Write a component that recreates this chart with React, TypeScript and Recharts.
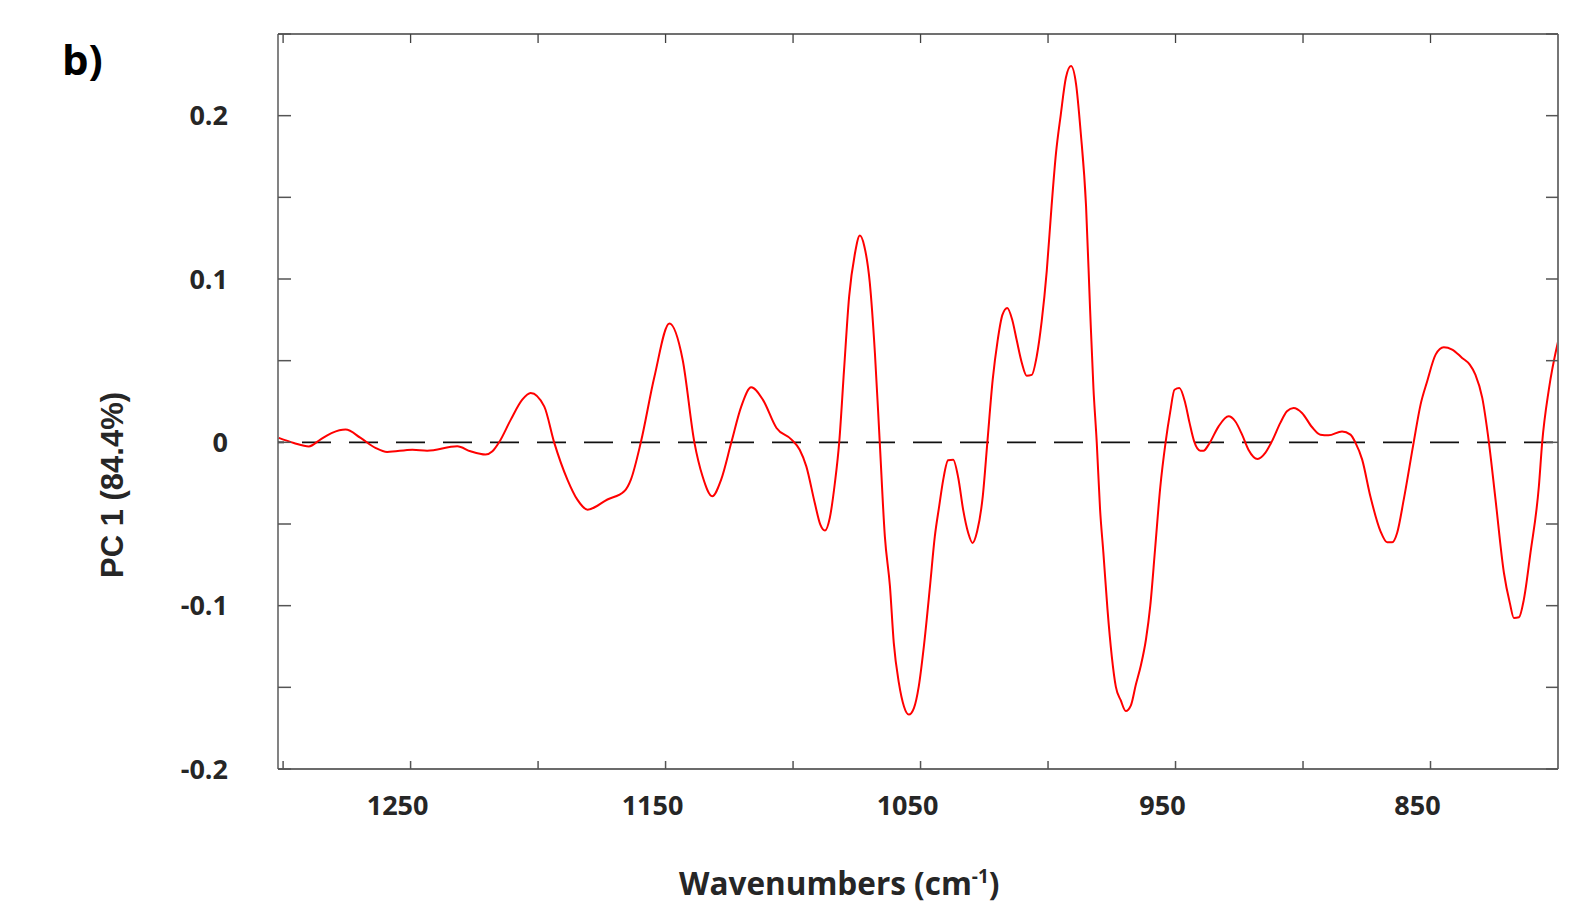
import { LineChart, Line, XAxis, YAxis, ReferenceLine } from 'recharts';

// PC1 loading (x = wavenumber, cm-1)
const wavenumbers = [
  1301.7, 1295.8, 1289.9, 1285.4, 1280.8, 1275.5, 1269.6, 1263.8, 1259.2, 1249.3,
  1243.5, 1231.7, 1226.5, 1220.6, 1217.9, 1215.3, 1210.7, 1206.2, 1202.9, 1197.6,
  1193.7, 1188.5, 1184.6, 1180.6, 1172.8, 1166.2, 1163.6, 1159.7, 1154.4, 1148.5,
  1143.3, 1138.7, 1135.5, 1131.7, 1128.2, 1124.2, 1120.3, 1116.4, 1111.8, 1106.5,
  1100.6, 1097.4, 1094.8, 1091.5, 1089.3, 1087.5, 1085.6, 1083.6, 1081.9, 1080.0,
  1078.0, 1075.8, 1073.8, 1072.1, 1069.9, 1067.9, 1066.0, 1064.0, 1062.0, 1060.5,
  1058.5, 1056.5, 1054.6, 1052.6, 1050.7, 1048.7, 1046.3, 1044.4, 1042.7, 1041.1,
  1039.2, 1037.2, 1035.2, 1033.3, 1031.3, 1029.6, 1027.8, 1025.6, 1023.8, 1021.7,
  1019.8, 1017.9, 1016.0, 1014.0, 1012.3, 1010.3, 1008.4, 1006.4, 1004.4, 1002.5,
  1000.5, 998.6, 996.9, 995.0, 993.0, 991.0, 989.0, 987.2, 985.1, 983.5,
  982.2, 980.9, 979.6, 978.3, 976.7, 975.0, 973.4, 971.5, 969.5, 967.5,
  965.6, 963.6, 961.6, 959.9, 958.0, 956.0, 953.9, 952.1, 950.4, 948.5,
  946.2, 944.5, 942.7, 940.3, 939.0, 937.0, 933.1, 929.2, 926.6, 923.9,
  921.4, 917.8, 914.8, 912.2, 908.9, 906.3, 903.7, 900.4, 896.5, 893.2,
  890.0, 884.7, 881.4, 879.5, 876.8, 873.6, 869.6, 867.0, 865.0, 863.1,
  860.5, 856.6, 853.9, 851.3, 848.0, 844.8, 841.5, 837.6, 834.6, 832.4,
  829.7, 827.1, 824.5, 821.2, 818.9, 817.3, 815.3, 813.4, 810.8, 807.5,
  806.2, 803.6, 799.8,
];

const pc1 = [
  0.0027, -0.0004, -0.0025, 0.0017, 0.0058, 0.0078, 0.0027, -0.0034, -0.0059, -0.0045,
  -0.0051, -0.0024, -0.0055, -0.0075, -0.0055, 0.0, 0.0139, 0.0261, 0.0302, 0.022,
  0.0, -0.0228, -0.0351, -0.0412, -0.035, -0.03, -0.0228, 0.0, 0.04, 0.0727,
  0.0506, 0.0, -0.0208, -0.033, -0.0228, 0.0, 0.022, 0.0337, 0.026, 0.0088,
  0.0017, -0.0045, -0.0147, -0.037, -0.0504, -0.054, -0.0463, -0.0249, 0.0, 0.0445,
  0.0894, 0.115, 0.1266, 0.1204, 0.0976, 0.0547, 0.0, -0.0576, -0.0882, -0.1228,
  -0.1473, -0.1617, -0.1667, -0.1627, -0.1494, -0.1249, -0.0882, -0.0576, -0.0392, -0.0228,
  -0.011, -0.0106, -0.0218, -0.0412, -0.0555, -0.0616, -0.0545, -0.0331, 0.0, 0.0384,
  0.062, 0.078, 0.0823, 0.0748, 0.0626, 0.0487, 0.0408, 0.0413, 0.053, 0.074,
  0.105, 0.1449, 0.1767, 0.2007, 0.2232, 0.2304, 0.2192, 0.19, 0.1449, 0.0811,
  0.0334, 0.0, -0.041, -0.0675, -0.102, -0.131, -0.1497, -0.1579, -0.1645, -0.161,
  -0.1486, -0.1366, -0.1207, -0.1, -0.065, -0.0277, 0.0, 0.0185, 0.0322, 0.0332,
  0.0241, 0.0119, 0.0006, -0.0051, -0.0051, -0.0014, 0.0098, 0.0159, 0.0129, 0.0047,
  -0.0045, -0.0102, -0.0065, 0.0006, 0.0119, 0.019, 0.021, 0.018, 0.0094, 0.0047,
  0.0043, 0.0067, 0.0047, 0.0, -0.0106, -0.033, -0.0545, -0.0612, -0.0612, -0.0555,
  -0.0351, 0.0, 0.0231, 0.0374, 0.0537, 0.0582, 0.0568, 0.0517, 0.0476, 0.0415,
  0.0272, 0.0, -0.0351, -0.08, -0.0983, -0.1075, -0.1071, -0.0963, -0.0677, -0.0269,
  0.0, 0.0323, 0.063,
];

const xTicks = [1300, 1250, 1200, 1150, 1100, 1050, 1000, 950, 900, 850, 800];
const xTickLabels = [1250, 1150, 1050, 950, 850];
const yTicks = [-0.2, -0.15, -0.1, -0.05, 0, 0.05, 0.1, 0.15, 0.2, 0.25];
const yTickLabels = [-0.2, -0.1, 0, 0.1, 0.2];

const data = wavenumbers.map((w, i) => ({ w, v: pc1[i] }));

const tickFont = {
  fontFamily: '"Open Sans", sans-serif',
  fontWeight: 700,
  fontSize: 27,
  fill: '#262626',
};

function BottomTick(props: any) {
  const { x, y, payload } = props;
  if (!xTickLabels.includes(payload.value)) return <g />;
  return (
    <text x={x - 13} y={y} dy="0.71em" textAnchor="middle" {...tickFont}>
      {payload.value}
    </text>
  );
}

function LeftTick(props: any) {
  const { x, y, payload } = props;
  if (!yTickLabels.includes(payload.value)) return <g />;
  return (
    <text x={x} y={y} dy="0.355em" textAnchor="end" {...tickFont}>
      {String(payload.value)}
    </text>
  );
}

const NoTick = () => <g />;

export default function App() {
  return (
    <div style={{ position: 'absolute', left: 0, top: 0, width: 1571, height: 907, background: '#fff' }}>
      <LineChart
        width={1571}
        height={907}
        data={data}
        margin={{ top: 33, right: 12, bottom: 137, left: 277 }}
      >
        <XAxis
          xAxisId="b"
          dataKey="w"
          type="number"
          domain={[800, 1302]}
          reversed
          allowDataOverflow
          ticks={xTicks}
          interval={0}
          height={1}
          tickSize={-8}
          tickMargin={35}
          tick={BottomTick}
          axisLine={{ stroke: '#6b6b6b', strokeWidth: 2 }}
          tickLine={{ stroke: '#555', strokeWidth: 1.5 }}
        />
        <XAxis
          xAxisId="t"
          orientation="top"
          dataKey="w"
          type="number"
          domain={[800, 1302]}
          reversed
          allowDataOverflow
          ticks={xTicks}
          interval={0}
          height={1}
          tickSize={-9}
          tick={NoTick}
          axisLine={{ stroke: '#404040', strokeWidth: 1.3 }}
          tickLine={{ stroke: '#404040', strokeWidth: 1.3 }}
        />
        <YAxis
          yAxisId="l"
          type="number"
          domain={[-0.2, 0.25]}
          allowDataOverflow
          ticks={yTicks}
          interval={0}
          width={1}
          tickSize={-13}
          tickMargin={63}
          tick={LeftTick}
          axisLine={{ stroke: '#404040', strokeWidth: 1.3 }}
          tickLine={{ stroke: '#555', strokeWidth: 1.5 }}
        />
        <YAxis
          yAxisId="r"
          orientation="right"
          type="number"
          domain={[-0.2, 0.25]}
          allowDataOverflow
          ticks={yTicks}
          interval={0}
          width={1}
          tickSize={-12}
          tick={NoTick}
          axisLine={{ stroke: '#767676', strokeWidth: 2 }}
          tickLine={{ stroke: '#555', strokeWidth: 1.5 }}
        />
        <ReferenceLine
          xAxisId="b"
          yAxisId="l"
          segment={[{ x: 1302, y: 0 }, { x: 800, y: 0 }]}
          stroke="#111"
          strokeWidth={1.6}
          strokeDasharray="29 18"
          strokeDashoffset={23}
        />
        <Line
          xAxisId="b"
          yAxisId="l"
          dataKey="v"
          type="monotone"
          stroke="#ff0000"
          strokeWidth={2}
          dot={false}
          isAnimationActive={false}
        />
      </LineChart>
      <svg
        width={1571}
        height={907}
        style={{ position: 'absolute', left: 0, top: 0, pointerEvents: 'none' }}
      >
        <text x={62} y={75} fontFamily='"Open Sans", sans-serif' fontWeight={700} fontSize={42} fill="#000">
          b)
        </text>
        <text
          transform="translate(123,485) rotate(-90)"
          textAnchor="middle"
          fontFamily='"Liberation Sans", Arial, sans-serif'
          fontWeight={700}
          fontSize={31}
          fill="#262626"
        >
          PC 1 (84.4%)
        </text>
        <text x={679} y={895} fontFamily='"Open Sans", sans-serif' fontWeight={700} fontSize={31.5} fill="#262626">
          Wavenumbers (cm
          <tspan fontSize={19} dy={-12}>-1</tspan>
          <tspan dy={12}>)</tspan>
        </text>
      </svg>
    </div>
  );
}
